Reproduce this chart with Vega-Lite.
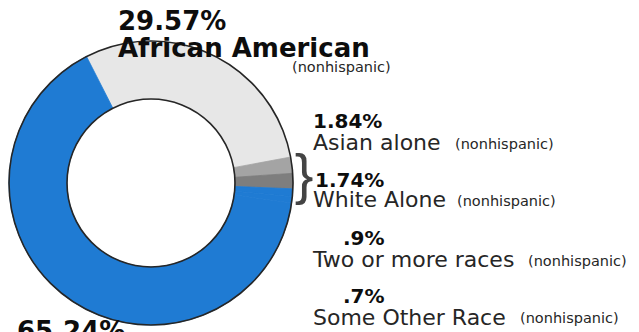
{
  "$schema": "https://vega.github.io/schema/vega-lite/v6.json",
  "width": 639,
  "height": 332,
  "autosize": {"type": "none"},
  "padding": 0,
  "background": "white",
  "view": {"stroke": null},
  "config": {"text": {"font": "DejaVu Sans"}},
  "datasets": {
    "slices": [
      {"group": "African American (nonhispanic)", "pct": 29.57, "ord": 1},
      {"group": "Asian alone (nonhispanic)", "pct": 1.84, "ord": 2},
      {"group": "White Alone (nonhispanic)", "pct": 1.74, "ord": 3},
      {"group": "Two or more races (nonhispanic)", "pct": 0.9, "ord": 4},
      {"group": "Some Other Race (nonhispanic)", "pct": 0.7, "ord": 5},
      {"group": "Hispanic", "pct": 65.24, "ord": 6}
    ],
    "ring": [{"full": 1}],
    "big": [
      {"label": "29.57%", "u": -0.2324, "v": 1.0775},
      {"label": "African American", "u": -0.2324, "v": 0.8873},
      {"label": "65.24%", "u": -0.9437, "v": -1.1056}
    ],
    "pcts": [
      {"label": "1.84%", "u": 1.1408, "v": 0.3873},
      {"label": "1.74%", "u": 1.1549, "v": -0.0282},
      {"label": ".9%", "u": 1.3521, "v": -0.4366},
      {"label": ".7%", "u": 1.3521, "v": -0.8451}
    ],
    "names": [
      {"label": "Asian alone", "u": 1.1408, "v": 0.2324},
      {"label": "White Alone", "u": 1.1408, "v": -0.169},
      {"label": "Two or more races", "u": 1.1408, "v": -0.5915},
      {"label": "Some Other Race", "u": 1.1408, "v": -1.0}
    ],
    "notes": [
      {"label": "(nonhispanic)", "u": 0.993, "v": 0.7817},
      {"label": "(nonhispanic)", "u": 2.1408, "v": 0.2394},
      {"label": "(nonhispanic)", "u": 2.1549, "v": -0.162},
      {"label": "(nonhispanic)", "u": 2.6549, "v": -0.5845},
      {"label": "(nonhispanic)", "u": 2.5986, "v": -0.9859}
    ],
    "brace": [{"label": "}", "u": 1.0775, "v": -0.0704}]
  },
  "layer": [
    {
      "data": {"name": "slices"},
      "mark": {"type": "arc", "innerRadius": 84, "outerRadius": 142, "strokeWidth": 0.8},
      "encoding": {
        "x": {"datum": 0, "type": "quantitative", "scale": {"domain": [-1.0634, 3.4366], "zero": false, "nice": false}, "axis": null},
        "y": {"datum": 0, "type": "quantitative", "scale": {"domain": [-1.0493, 1.2887], "zero": false, "nice": false}, "axis": null},
        "theta": {"field": "pct", "type": "quantitative", "stack": true, "scale": {"range": [-0.4712, 5.812]}},
        "order": {"field": "ord", "type": "quantitative"},
        "color": {
          "field": "group", "type": "nominal", "legend": null,
          "scale": {
            "domain": ["African American (nonhispanic)", "Asian alone (nonhispanic)", "White Alone (nonhispanic)", "Two or more races (nonhispanic)", "Some Other Race (nonhispanic)", "Hispanic"],
            "range": ["#e7e7e7", "#a4a4a4", "#7e7e7e", "#1f7bd3", "#1f7bd3", "#1f7bd3"]
          }
        },
        "stroke": {
          "field": "group", "type": "nominal", "legend": null,
          "scale": {
            "domain": ["African American (nonhispanic)", "Asian alone (nonhispanic)", "White Alone (nonhispanic)", "Two or more races (nonhispanic)", "Some Other Race (nonhispanic)", "Hispanic"],
            "range": ["#e7e7e7", "#a4a4a4", "#7e7e7e", "#1f7bd3", "#1f7bd3", "#1f7bd3"]
          }
        }
      }
    },
    {
      "data": {"name": "ring"},
      "mark": {"type": "arc", "innerRadius": 84, "outerRadius": 142, "fill": null, "fillOpacity": 0, "stroke": "#262626", "strokeWidth": 1.6},
      "encoding": {
        "x": {"datum": 0, "type": "quantitative", "scale": {"domain": [-1.0634, 3.4366], "zero": false, "nice": false}, "axis": null},
        "y": {"datum": 0, "type": "quantitative", "scale": {"domain": [-1.0493, 1.2887], "zero": false, "nice": false}, "axis": null},
        "theta": {"field": "full", "type": "quantitative"}
      }
    },
    {
      "data": {"name": "big"},
      "mark": {"type": "text", "align": "left", "baseline": "alphabetic", "fontSize": 26, "fontWeight": "bold", "color": "#0d0d0d"},
      "encoding": {
        "x": {"field": "u", "type": "quantitative", "scale": {"domain": [-1.0634, 3.4366], "zero": false, "nice": false}, "axis": null},
        "y": {"field": "v", "type": "quantitative", "scale": {"domain": [-1.0493, 1.2887], "zero": false, "nice": false}, "axis": null},
        "text": {"field": "label"}
      }
    },
    {
      "data": {"name": "pcts"},
      "mark": {"type": "text", "align": "left", "baseline": "alphabetic", "fontSize": 20, "fontWeight": "bold", "color": "#0d0d0d"},
      "encoding": {
        "x": {"field": "u", "type": "quantitative", "scale": {"domain": [-1.0634, 3.4366], "zero": false, "nice": false}, "axis": null},
        "y": {"field": "v", "type": "quantitative", "scale": {"domain": [-1.0493, 1.2887], "zero": false, "nice": false}, "axis": null},
        "text": {"field": "label"}
      }
    },
    {
      "data": {"name": "names"},
      "mark": {"type": "text", "align": "left", "baseline": "alphabetic", "fontSize": 22, "color": "#262626"},
      "encoding": {
        "x": {"field": "u", "type": "quantitative", "scale": {"domain": [-1.0634, 3.4366], "zero": false, "nice": false}, "axis": null},
        "y": {"field": "v", "type": "quantitative", "scale": {"domain": [-1.0493, 1.2887], "zero": false, "nice": false}, "axis": null},
        "text": {"field": "label"}
      }
    },
    {
      "data": {"name": "notes"},
      "mark": {"type": "text", "align": "left", "baseline": "alphabetic", "fontSize": 14.5, "color": "#262626"},
      "encoding": {
        "x": {"field": "u", "type": "quantitative", "scale": {"domain": [-1.0634, 3.4366], "zero": false, "nice": false}, "axis": null},
        "y": {"field": "v", "type": "quantitative", "scale": {"domain": [-1.0493, 1.2887], "zero": false, "nice": false}, "axis": null},
        "text": {"field": "label"}
      }
    },
    {
      "data": {"name": "brace"},
      "mark": {"type": "text", "align": "center", "baseline": "alphabetic", "fontSize": 56, "font": "Liberation Sans", "color": "#444444"},
      "encoding": {
        "x": {"field": "u", "type": "quantitative", "scale": {"domain": [-1.0634, 3.4366], "zero": false, "nice": false}, "axis": null},
        "y": {"field": "v", "type": "quantitative", "scale": {"domain": [-1.0493, 1.2887], "zero": false, "nice": false}, "axis": null},
        "text": {"field": "label"}
      }
    }
  ],
  "resolve": {"scale": {"theta": "independent"}}
}
